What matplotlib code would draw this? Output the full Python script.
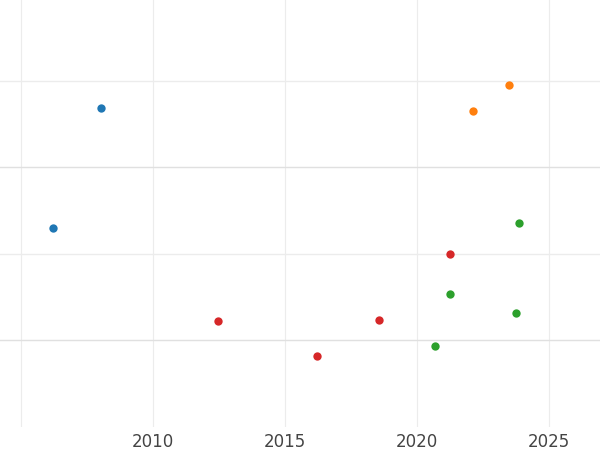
import matplotlib
matplotlib.use("Agg")
import matplotlib.pyplot as plt

blue_x = [2008.03, 2006.21]
blue_y = [2.68, 1.30]
orange_x = [2022.12, 2023.48]
orange_y = [2.65, 2.95]
green_x = [2023.86, 2021.25, 2023.75, 2020.68]
green_y = [1.35, 0.53, 0.32, -0.06]
red_x = [2021.25, 2012.46, 2018.56, 2016.21]
red_y = [1.0, 0.22, 0.23, -0.18]
xticks = [2010, 2015, 2020, 2025]

fig = plt.figure(figsize=(6, 4.5), dpi=100)
ax = fig.add_axes([0, 50/450*0.46, 1, 427/450])
ax.set_position([0, 23/450, 1, 427/450])
ax.set_xlim(2004.2, 2026.93)
ax.set_ylim(-1.0, 3.93)
for s in ax.spines.values():
    s.set_visible(False)
for v in [2005, 2010, 2015, 2020, 2025]:
    ax.axvline(v, color="#ececec", lw=0.8, zorder=0)
for v, c in [(0, "#e0e0e0"), (1, "#ececec"), (2, "#e0e0e0"), (3, "#ececec")]:
    ax.axhline(v, color=c, lw=1.0, zorder=0)
ax.set_yticks([])
ax.set_xticks(xticks)
ax.set_xticklabels([str(t) for t in xticks])
ax.tick_params(axis="x", length=0, labelsize=12, labelcolor="#444444", pad=4)
for xs, ys, c in [(blue_x, blue_y, "#1f77b4"), (orange_x, orange_y, "#ff7f0e"),
                  (green_x, green_y, "#2ca02c"), (red_x, red_y, "#d62728")]:
    ax.scatter(xs, ys, s=36, color=c, zorder=3, linewidths=0)
fig.savefig("out.png", dpi=100)
